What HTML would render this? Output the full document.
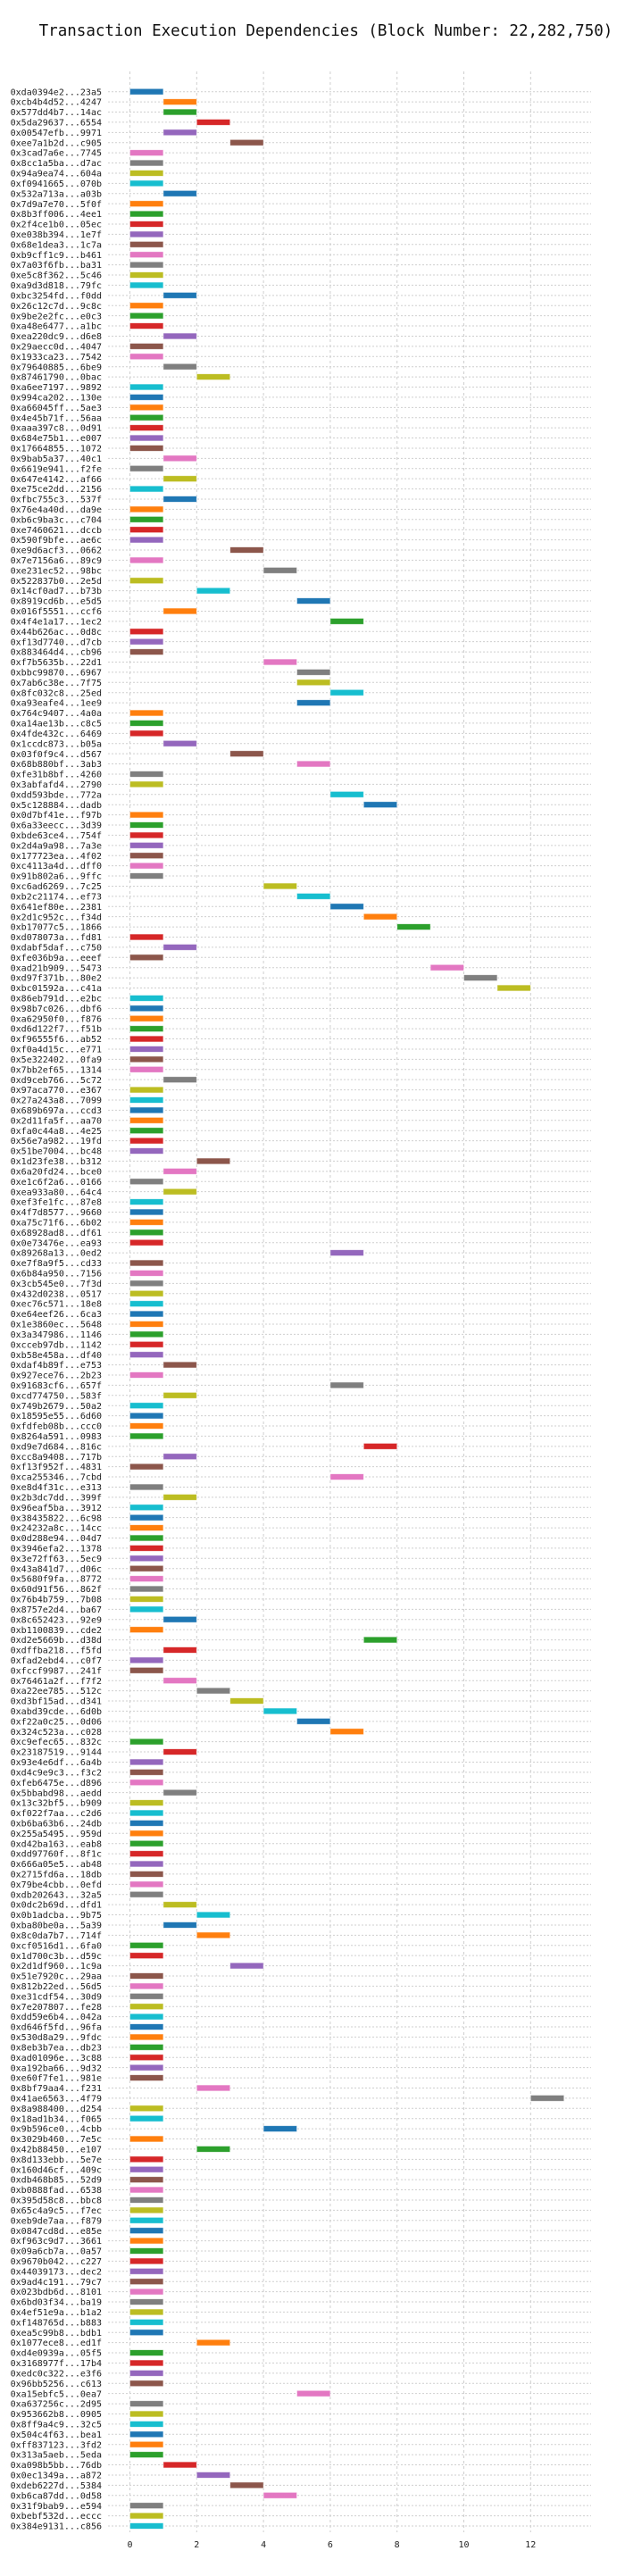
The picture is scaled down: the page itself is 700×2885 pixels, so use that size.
<!DOCTYPE html>
<html><head><meta charset="utf-8">
<style>
html,body{margin:0;padding:0;background:#fff;}
body{width:700px;height:2880px;overflow:hidden;}
svg text{font-family:"DejaVu Sans Mono","Liberation Mono",monospace;}
</style></head>
<body>
<svg id="chart" width="700" height="2880" viewBox="0 0 700 2880" xmlns="http://www.w3.org/2000/svg">
<text x="365" y="40" text-anchor="middle" font-size="17.5" fill="#111">Transaction Execution Dependencies (Block Number: 22,282,750)</text>
<g id="grid"></g><g id="bars"></g><g id="ylabels"></g><g id="xticks"></g>
</svg>
<script>
const txLabels = ["0xda0394e2...23a5","0xcb4b4d52...4247","0x577dd4b7...14ac","0x5da29637...6554","0x00547efb...9971","0xee7a1b2d...c905","0x3cad7a6e...7745","0x8cc1a5ba...d7ac","0x94a9ea74...604a","0xf0941665...070b",
"0x532a713a...a03b","0x7d9a7e70...5f0f","0x8b3ff006...4ee1","0x2f4ce1b0...05ec","0xe038b394...1e7f","0x68e1dea3...1c7a","0xb9cff1c9...b461","0x7a03f6fb...ba31","0xe5c8f362...5c46","0xa9d3d818...79fc",
"0xbc3254fd...f0dd","0x26c12c7d...9c8c","0x9be2e2fc...e0c3","0xa48e6477...a1bc","0xea220dc9...d6e8","0x29aecc0d...4047","0x1933ca23...7542","0x79640885...6be9","0x87461790...0bac","0xa6ee7197...9892",
"0x994ca202...130e","0xa66045ff...5ae3","0x4e45b71f...56aa","0xaaa397c8...0d91","0x684e75b1...e007","0x17664855...1072","0x9bab5a37...40c1","0x6619e941...f2fe","0x647e4142...af66","0xe75ce2dd...2156",
"0xfbc755c3...537f","0x76e4a40d...da9e","0xb6c9ba3c...c704","0xe7460621...dccb","0x590f9bfe...ae6c","0xe9d6acf3...0662","0x7e7156a6...89c9","0xe231ec52...98bc","0x522837b0...2e5d","0x14cf0ad7...b73b",
"0x8919cd6b...e5d5","0x016f5551...ccf6","0x4f4e1a17...1ec2","0x44b626ac...0d8c","0xf13d7740...d7cb","0x883464d4...cb96","0xf7b5635b...22d1","0xbbc99870...6967","0x7ab6c38e...7f75","0x8fc032c8...25ed",
"0xa93eafe4...1ee9","0x764c9407...4a0a","0xa14ae13b...c8c5","0x4fde432c...6469","0x1ccdc873...b05a","0x03f0f9c4...d567","0x68b880bf...3ab3","0xfe31b8bf...4260","0x3abfafd4...2790","0xdd593bde...772a",
"0x5c128884...dadb","0x0d7bf41e...f97b","0x6a33eecc...3d39","0xbde63ce4...754f","0x2d4a9a98...7a3e","0x177723ea...4f02","0xc4113a4d...dff0","0x91b802a6...9ffc","0xc6ad6269...7c25","0xb2c21174...ef73",
"0x641ef80e...2381","0x2d1c952c...f34d","0xb17077c5...1866","0xd078073a...fd81","0xdabf5daf...c750","0xfe036b9a...eeef","0xad21b909...5473","0xd97f371b...80e2","0xbc01592a...c41a","0x86eb791d...e2bc",
"0x98b7c026...dbf6","0xa62950f0...f876","0xd6d122f7...f51b","0xf96555f6...ab52","0xf0a4d15c...e771","0x5e322402...0fa9","0x7bb2ef65...1314","0xd9ceb766...5c72","0x97aca770...e367","0x27a243a8...7099",
"0x689b697a...ccd3","0x2d11fa5f...aa70","0xfa0c44a8...4e25","0x56e7a982...19fd","0x51be7004...bc48","0x1d23fe38...b312","0x6a20fd24...bce0","0xe1c6f2a6...0166","0xea933a80...64c4","0xef3fe1fc...87e8",
"0x4f7d8577...9660","0xa75c71f6...6b02","0x68928ad8...df61","0x0e73476e...ea93","0x89268a13...0ed2","0xe7f8a9f5...cd33","0x6b84a950...7156","0x3cb545e0...7f3d","0x432d0238...0517","0xec76c571...18e8",
"0xe64eef26...6ca3","0x1e3860ec...5648","0x3a347986...1146","0xcceb97db...1142","0xb58e458a...df40","0xdaf4b89f...e753","0x927ece76...2b23","0x91683cf6...657f","0xcd774750...583f","0x749b2679...50a2",
"0x18595e55...6d60","0xfdfeb08b...ccc0","0x8264a591...0983","0xd9e7d684...816c","0xcc8a9408...717b","0xf13f952f...4831","0xca255346...7cbd","0xe8d4f31c...e313","0x2b3dc7dd...399f","0x96eaf5ba...3912",
"0x38435822...6c98","0x24232a8c...14cc","0x0d288e94...04d7","0x3946efa2...1378","0x3e72ff63...5ec9","0x43a841d7...d06c","0x5680f9fa...8772","0x60d91f56...862f","0x76b4b759...7b08","0x8757e2d4...ba67",
"0x8c652423...92e9","0xb1100839...cde2","0xd2e5669b...d38d","0xdffba218...f5fd","0xfad2ebd4...c0f7","0xfccf9987...241f","0x76461a2f...f7f2","0xa22ee785...512c","0xd3bf15ad...d341","0xabd39cde...6d0b",
"0xf22a0c25...0d06","0x324c523a...c028","0xc9efec65...832c","0x23187519...9144","0x93e4e6df...6a4b","0xd4c9e9c3...f3c2","0xfeb6475e...d896","0x5bbabd98...aedd","0x13c32bf5...b909","0xf022f7aa...c2d6",
"0xb6ba63b6...24db","0x255a5495...959d","0xd42ba163...eab8","0xdd97760f...8f1c","0x666a05e5...ab48","0x2715fd6a...18db","0x79be4cbb...0efd","0xdb202643...32a5","0x0dc2b69d...dfd1","0x0b1adcba...9b75",
"0xba80be0a...5a39","0x8c0da7b7...714f","0xcf0516d1...6fa0","0x1d700c3b...d59c","0x2d1df960...1c9a","0x51e7920c...29aa","0x812b22ed...56d5","0xe31cdf54...30d9","0x7e207807...fe28","0xdd59e6b4...042a",
"0xd646f5fd...96fa","0x530d8a29...9fdc","0x8eb3b7ea...db23","0xad01096e...3c88","0xa192ba66...9d32","0xe60f7fe1...981e","0x8bf79aa4...f231","0x41ae6563...4f79","0x8a988400...d254","0x18ad1b34...f065",
"0x9b596ce0...4cbb","0x3029b460...7e5c","0x42b88450...e107","0x8d133ebb...5e7e","0x160d46cf...409c","0xdb468b85...52d9","0xb0888fad...6538","0x395d58c8...bbc8","0x65c4a9c5...f7ec","0xeb9de7aa...f879",
"0x0847cd8d...e85e","0xf963c9d7...3661","0x09a6cb7a...0a57","0x9670b042...c227","0x44039173...dec2","0x9ad4c191...79c7","0x023bdb6d...8101","0x6bd03f34...ba19","0x4ef51e9a...b1a2","0xf148765d...b883",
"0xea5c99b8...bdb1","0x1077ece8...ed1f","0xd4e0939a...05f5","0x3168977f...17b4","0xedc0c322...e3f6","0x96bb5256...c613","0xa15ebfc5...0ea7","0xa637256c...2d95","0x953662b8...0905","0x8ff9a4c9...32c5",
"0x504c4f63...bea1","0xff837123...3fd2","0x313a5aeb...5eda","0xa098b5bb...76db","0x0ec1349a...a872","0xdeb6227d...5384","0xb6ca87dd...0d58","0x31f9bab9...e594","0xbebf532d...eccc","0x384e9131...c856"];
const startSteps = [0,1,1,2,1,3,0,0,0,0, 1,0,0,0,0,0,0,0,0,0, 1,0,0,0,1,0,0,1,2,0, 0,0,0,0,0,0,1,0,1,0,
1,0,0,0,0,3,0,4,0,2, 5,1,6,0,0,0,4,5,5,6, 5,0,0,0,1,3,5,0,0,6, 7,0,0,0,0,0,0,0,4,5,
6,7,8,0,1,0,9,10,11,0, 0,0,0,0,0,0,0,1,0,0, 0,0,0,0,0,2,1,0,1,0, 0,0,0,0,6,0,0,0,0,0,
0,0,0,0,0,1,0,6,1,0, 0,0,0,7,1,0,6,0,1,0, 0,0,0,0,0,0,0,0,0,0, 1,0,7,1,0,0,1,2,3,4,
5,6,0,1,0,0,0,1,0,0, 0,0,0,0,0,0,0,0,1,2, 1,2,0,0,3,0,0,0,0,0, 0,0,0,0,0,0,2,12,0,0,
4,0,2,0,0,0,0,0,0,0, 0,0,0,0,0,0,0,0,0,0, 0,2,0,0,0,0,5,0,0,0, 0,0,0,1,2,3,4,0,0,0];
const durations = startSteps.map(() => 1);
const xTickValues = [0,2,4,6,8,10,12];
const palette = ["#1f77b4","#ff7f0e","#2ca02c","#d62728","#9467bd","#8c564b","#e377c2","#7f7f7f","#bcbd22","#17becf"];

const NS = "http://www.w3.org/2000/svg";
const X0 = 145.5, UNIT = 37.4, Y0 = 102.7, ROW = 11.407;
const GRID_L = 121, GRID_R = 662, GRID_T = 80, GRID_B = 2836;
function xScale(v){ return X0 + v*UNIT; }
function yScale(i){ return Y0 + i*ROW; }
function mk(tag, attrs, parent){ const e=document.createElementNS(NS,tag); for(const k in attrs) e.setAttribute(k, attrs[k]); parent.appendChild(e); return e; }

const grid = document.getElementById('grid');
const bars = document.getElementById('bars');
const yl = document.getElementById('ylabels');
const xt = document.getElementById('xticks');

xTickValues.forEach(v => {
  const ln = mk('line', {x1:xScale(v), x2:xScale(v), y1:GRID_T, y2:GRID_B, stroke:'#cfcfcf', 'stroke-width':1, 'stroke-dasharray':'3,3'}, grid);
  
  
  const t = mk('text', {x:xScale(v), y:2853, 'text-anchor':'middle', 'font-size':10, fill:'#222'}, xt);
  t.textContent = v;
  
  
});

txLabels.forEach((lab, i) => {
  const y = yScale(i);
  const gl = mk('line', {x1:GRID_L, x2:GRID_R, y1:y, y2:y, stroke:'#cfcfcf', 'stroke-width':1, 'stroke-dasharray':'2,2'}, grid);
  
  
  const t = mk('text', {x:114, y:y+3.6, 'text-anchor':'end', 'font-size':10, fill:'#222'}, yl);
  t.textContent = lab;
  
  
  const s = startSteps[i], d = durations[i];
  const r = mk('rect', {x:xScale(s), y:y-3.4, width:d*UNIT, height:6.8, fill:palette[i%10], stroke:'rgba(255,255,255,0.6)', 'stroke-width':0.8}, bars);
  
  
});
</script>
</body></html>
